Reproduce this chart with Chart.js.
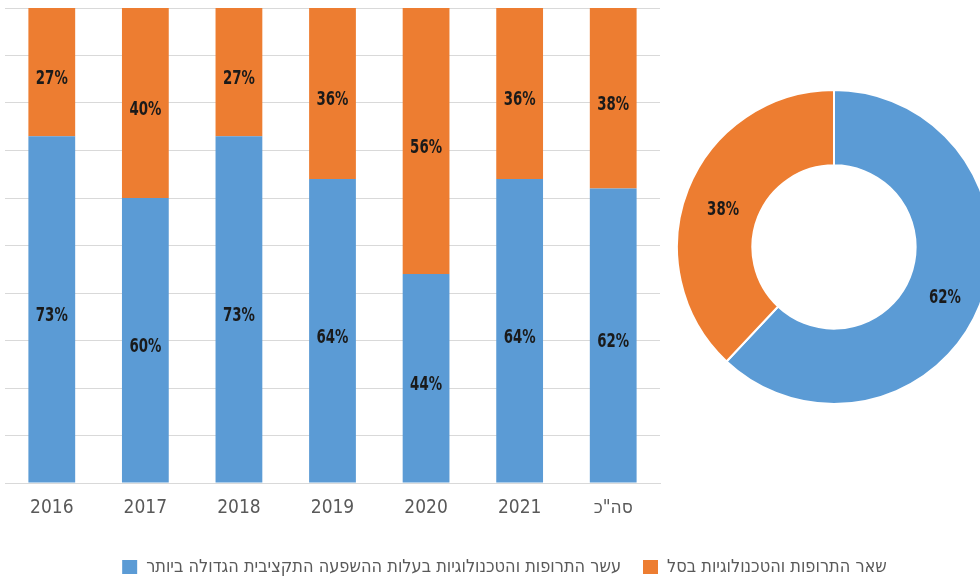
<!DOCTYPE html>
<html lang="he">
<head>
<meta charset="utf-8">
<script src="https://cdn.jsdelivr.net/npm/chart.js@4.4.1/dist/chart.umd.min.js"></script>
<style>
  html, body { margin: 0; padding: 0; background: #ffffff; overflow: hidden; }
  #wrap { position: relative; width: 980px; height: 578px; overflow: hidden; }
  #barBox { position: absolute; left: 0; top: 0; width: 1004px; height: 588px; }
  #pieBox { position: absolute; left: 676px; top: 89px; width: 316px; height: 316px; }
</style>
</head>
<body>
<div id="wrap">
  <div id="barBox"><canvas id="bar" dir="rtl"></canvas></div>
  <div id="pieBox"><canvas id="pie"></canvas></div>
</div>
<script>
// ---- data ----
const categories = ['2016', '2017', '2018', '2019', '2020', '2021', 'סה"כ'];
const topTenShare = [73, 60, 73, 64, 44, 64, 62];
const restShare   = [27, 40, 27, 36, 56, 36, 38];
const seriesNames = [
  'עשר התרופות והטכנולוגיות בעלות ההשפעה התקציבית הגדולה ביותר',
  'שאר התרופות והטכנולוגיות בסל'
];
const totalShare = [62, 38];
const yTicks = [0, 10, 20, 30, 40, 50, 60, 70, 80, 90, 100];

const BLUE = '#5B9BD5';
const ORANGE = '#ED7D31';
const NARROW = '"Liberation Sans Narrow", "DejaVu Sans Condensed", "DejaVu Sans", sans-serif';

const valueLabels = {
  id: 'valueLabels',
  afterDatasetsDraw(chart) {
    const ctx = chart.ctx;
    chart.data.datasets.forEach((ds, i) => {
      const meta = chart.getDatasetMeta(i);
      meta.data.forEach((el, j) => {
        let x, y;
        if (chart.config.type === 'bar') {
          x = el.x; y = (el.y + el.base) / 2;
        } else {
          const p = el.tooltipPosition();
          x = p.x; y = p.y;
        }
        ctx.save();
        ctx.direction = 'ltr';
        ctx.font = 'bold 19px ' + NARROW;
        ctx.fillStyle = '#1a1a1a';
        ctx.textAlign = 'center';
        ctx.textBaseline = 'middle';
        ctx.translate(x, y + 7);
        ctx.scale(0.78, 1);
        ctx.fillText(ds.data[j] + '%', 0, 0);
        ctx.restore();
      });
    });
  }
};

new Chart(document.getElementById('bar'), {
  type: 'bar',
  data: {
    labels: categories,
    datasets: [
      { label: seriesNames[0], data: topTenShare, backgroundColor: BLUE, borderWidth: 0 },
      { label: seriesNames[1], data: restShare, backgroundColor: ORANGE, borderWidth: 0 }
    ]
  },
  options: {
    responsive: true,
    maintainAspectRatio: false,
    animation: false,
    events: [],
    layout: { padding: { left: 5, top: 8, right: 0, bottom: 2 } },
    datasets: { bar: { categoryPercentage: 1.0, barPercentage: 0.5 } },
    scales: {
      x: {
        stacked: true,
        grid: { display: false, drawTicks: false },
        border: { display: true, color: '#d9d9d9' },
        ticks: { color: '#595959', padding: 14, font: { size: 19, family: NARROW } },
        afterFit(scale) { scale.height = 53; }
      },
      y: {
        stacked: true,
        position: 'right',
        min: 0, max: 100,
        afterBuildTicks(scale) { scale.ticks = yTicks.map(v => ({ value: v })); },
        afterFit(scale) { scale.width = 344; },
        grid: { color: '#d9d9d9', lineWidth: 1, drawTicks: false },
        border: { display: false },
        ticks: { display: false }
      }
    },
    plugins: {
      legend: {
        position: 'bottom',
        textDirection: 'rtl',
        labels: {
          boxWidth: 15, boxHeight: 14, padding: 22, color: '#595959',
          font: { size: 18, family: NARROW }
        }
      },
      tooltip: { enabled: false }
    }
  },
  plugins: [valueLabels]
});

new Chart(document.getElementById('pie'), {
  type: 'doughnut',
  data: {
    labels: seriesNames,
    datasets: [{
      data: totalShare,
      backgroundColor: [BLUE, ORANGE],
      borderColor: '#ffffff',
      borderWidth: 2,
      hoverOffset: 0,
      offset: 0
    }]
  },
  options: {
    responsive: true,
    maintainAspectRatio: false,
    animation: false,
    events: [],
    cutout: '52%',
    plugins: { legend: { display: false }, tooltip: { enabled: false } }
  },
  plugins: [valueLabels]
});
</script>
</body>
</html>
